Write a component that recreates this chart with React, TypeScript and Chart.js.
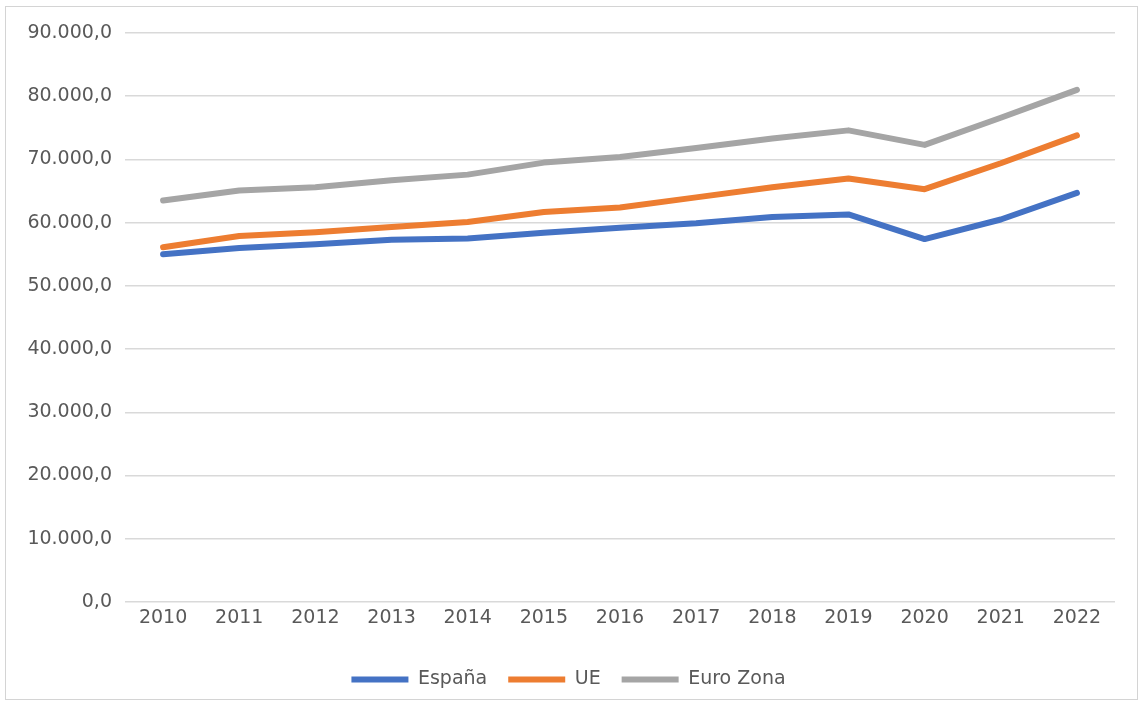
import React, { useEffect, useRef } from "react";
import { Chart, registerables } from "chart.js";

Chart.register(...registerables);

const years = ["2010", "2011", "2012", "2013", "2014", "2015", "2016", "2017", "2018", "2019", "2020", "2021", "2022"];
const espana = [55000, 56000, 56600, 57300, 57500, 58400, 59200, 59900, 60900, 61300, 57400, 60500, 64700];
const ue = [56100, 57900, 58500, 59300, 60100, 61700, 62400, 64000, 65600, 67000, 65300, 69400, 73800];
const euroZona = [63500, 65100, 65600, 66700, 67600, 69500, 70400, 71800, 73300, 74600, 72300, 76600, 81000];
const seriesNames = ["España", "UE", "Euro Zona"];
const seriesColors = ["#4472C4", "#ED7D31", "#A5A5A5"];

function fmt(v: number): string {
  const s = Math.round(v).toString();
  const grouped = s.replace(/\B(?=(\d{3})+(?!\d))/g, ".");
  return grouped + ",0";
}

export default function App() {
  const ref = useRef<HTMLCanvasElement | null>(null);
  useEffect(() => {
    if (!ref.current) return;
    const font = { family: "'DejaVu Sans', sans-serif", size: 19 };
    const seriesData = [espana, ue, euroZona];
    const chart = new Chart(ref.current, {
      type: "line",
      data: {
        labels: years,
        datasets: seriesData.map((d, i) => ({
          label: seriesNames[i],
          data: d,
          borderColor: seriesColors[i],
          backgroundColor: seriesColors[i],
          borderWidth: 6,
          pointRadius: 0,
          tension: 0,
          borderCapStyle: "round" as const,
          borderJoinStyle: "round" as const,
          pointStyle: "line" as const,
          yAxisID: "y",
        })),
      },
      options: {
        animation: false,
        responsive: false,
        devicePixelRatio: 1,
        layout: { padding: { left: 0, right: 10, top: 33, bottom: 4 } },
        plugins: {
          tooltip: { enabled: false },
          legend: {
            position: "bottom",
            labels: {
              usePointStyle: true,
              pointStyle: "line",
              pointStyleWidth: 57,
              color: "#595959",
              font,
              padding: 21,
            },
          },
        },
        scales: {
          x: {
            offset: true,
            grid: { display: false, drawTicks: false },
            border: { display: false },
            ticks: { color: "#595959", font, padding: 5, maxRotation: 0 },
            afterFit: (s: any) => {
              s.height = 47;
            },
          },
          y: {
            min: 0,
            max: 90000,
            grid: { color: "#d9d9d9", lineWidth: 1.5, drawTicks: false },
            border: { display: false },
            ticks: {
              stepSize: 10000,
              color: "#595959",
              font,
              padding: 13,
              callback: (v: any) => fmt(Number(v)),
            },
            afterFit: (s: any) => {
              s.width = 125;
            },
          },
          yRight: {
            position: "right",
            grid: { display: false, drawTicks: false },
            border: { display: false },
            ticks: { display: false },
            afterFit: (s: any) => {
              s.width = 22;
            },
          },
        },
      },
    });
    return () => chart.destroy();
  }, []);
  return (
    <div style={{ position: "fixed", left: 0, top: 0, width: 1147, height: 703, background: "#fff" }}>
      <canvas ref={ref} width={1147} height={703} style={{ position: "absolute", left: 0, top: 0, width: 1147, height: 703 }} />
      <div
        style={{
          position: "absolute",
          left: 5,
          top: 6,
          width: 1131,
          height: 692,
          border: "1.5px solid #d4d4d4",
          pointerEvents: "none",
        }}
      />
    </div>
  );
}
